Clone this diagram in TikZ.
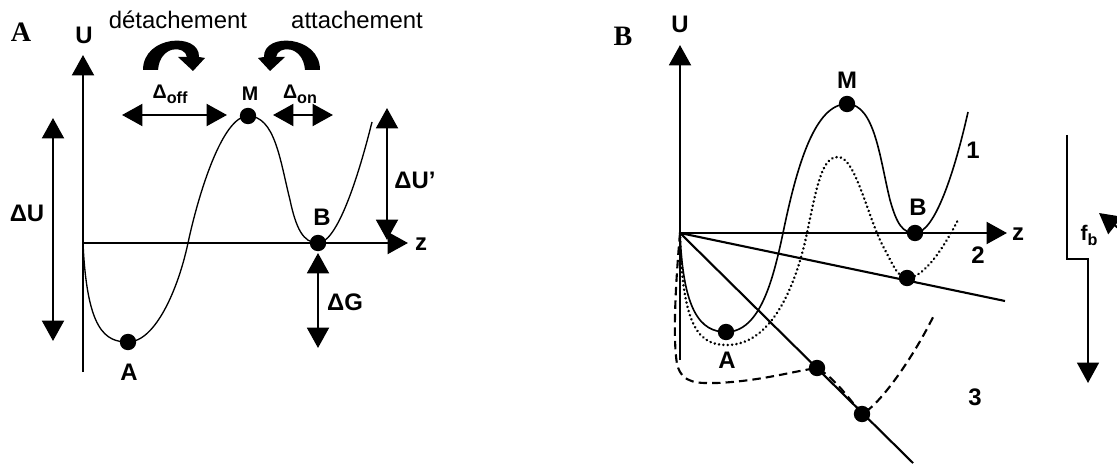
\documentclass[tikz,border=0pt]{standalone}
\usepackage{fontspec}
\setmainfont{Liberation Sans}
\newfontfamily\panelfont{Liberation Serif}
\usetikzlibrary{arrows.meta}
\newcommand\lowsub[1]{\raisebox{-0.45ex}{\fontsize{11.5}{12}\selectfont #1}}
\tikzset{
  axis/.style={line width=1.9pt},
  thinline/.style={line width=1.5pt},
  big/.style={-{Triangle[length=14.5pt,width=15.5pt]}},
  bigboth/.style={{Triangle[length=14.5pt,width=15.5pt]}-{Triangle[length=14.5pt,width=15.5pt]}},
  curveA/.style={line width=0.95pt},
  curveB/.style={line width=1.15pt},
  dotted curve/.style={line width=2pt, line cap=round, dash pattern=on 0.01pt off 3.1pt},
  dashed curve/.style={line width=1.5pt, dash pattern=on 6pt off 3.6pt},
  dot/.style={circle,fill=black,inner sep=0pt,minimum size=0.41cm},
  lab/.style={font=\fontsize{17}{20}\selectfont\bfseries, inner sep=0pt},
  small/.style={font=\fontsize{14}{16}\selectfont\bfseries, inner sep=0pt},
  txt/.style={font=\fontsize{17}{20}\selectfont, inner sep=0pt},
  panel/.style={font=\fontsize{20}{22}\selectfont\panelfont\bfseries, inner sep=0pt},
}
\begin{document}
\begin{tikzpicture}[x=0.025cm, y=-0.025cm]
\useasboundingbox (0,0) rectangle (1117,465);
\clip (0,0) rectangle (1117,465);

% ================= Panel A =================
\coordinate (OA) at (83,243);
\coordinate (UAbot) at (83,372);
\coordinate (UAtop) at (83,55);
\coordinate (zAend) at (408,243);
\coordinate (pA) at (128,342);
\coordinate (pM) at (248,116);
\coordinate (pB) at (318,243);
\coordinate (cAz) at (188,243);
\coordinate (cAend) at (372,122);

\draw[axis,big] (UAbot) -- (UAtop);
\draw[axis,big] (OA) -- (zAend);

\draw[curveA] (OA) .. controls (87,330) and (105,342) .. (pA)
  .. controls (155,342) and (178,290) .. (cAz)
  .. controls (198,196) and (222,116) .. (pM)
  .. controls (275,116) and (280,160) .. (290,200)
  .. controls (296,228) and (303,243) .. (pB)
  .. controls (335,243) and (355,190) .. (cAend);

\node[dot] (dA) at (pA) {};
\node[dot] (dM) at (pM) {};
\node[dot] (dB) at (pB) {};

% measurement arrows
\coordinate (dUt) at (53,118);
\coordinate (dUb) at (53,341);
\draw[axis,bigboth] (dUt) -- (dUb);
\coordinate (dUpt) at (387,108);
\coordinate (dUpb) at (387,240);
\draw[axis,bigboth] (dUpt) -- (dUpb);
\coordinate (dGt) at (318,253);
\coordinate (dGb) at (318,348);
\draw[axis,bigboth] (dGt) -- (dGb);
\coordinate (offL) at (122,115);
\coordinate (offR) at (227,115);
\draw[axis,bigboth] (offL) -- (offR);
\coordinate (onL) at (273,115);
\coordinate (onR) at (333,115);
\draw[axis,bigboth] (onL) -- (onR);

% curved block arrows
\fill (143,70) .. controls (143,35) and (200,32) .. (199,57) -- (205,58) -- (193,71) -- (178,57) -- (187,57)
  .. controls (185,45) and (160,45) .. (158,70) -- cycle;
\begin{scope}[shift={(463,0)}, xscale=-1]
\fill (143,70) .. controls (143,35) and (200,32) .. (199,57) -- (205,58) -- (193,71) -- (178,57) -- (187,57)
  .. controls (185,45) and (160,45) .. (158,70) -- cycle;
\end{scope}

% labels panel A
\node[panel] (panA) at (21,32) {A};
\node[lab] (lUA) at (84,35) {U};
\node[txt] (ldet) at (178,20) {détachement};
\node[txt] (latt) at (357,20) {attachement};
\node[small] (loff) at (170,94) {Δ\lowsub{off}};
\node[small] (lMA) at (250,94) {M};
\node[small] (lon) at (300,94) {Δ\lowsub{on}};
\node[lab] (ldU) at (27,213) {ΔU};
\node[lab] (ldUp) at (415,180) {ΔU’};
\node[lab] (lBA) at (322,217) {B};
\node[lab] (lzA) at (421,244) {z};
\node[lab] (ldG) at (345,302) {ΔG};
\node[lab] (lAA) at (129,372) {A};

% ================= Panel B =================
\coordinate (OB) at (680,233);
\coordinate (UBbot) at (680,360);
\coordinate (UBtop) at (680,45);
\coordinate (zBend) at (1007,233);
\coordinate (l2end) at (1005,301);
\coordinate (l3end) at (913,463);

\draw[axis,big] (UBbot) -- (UBtop);
\draw[axis,big] (OB) -- (zBend);
\draw[thinline] (OB) -- (l2end);
\draw[thinline] (OB) -- (l3end);

\coordinate (q1A) at (726,332);
\coordinate (q1M) at (847,104);
\coordinate (q1B) at (915,233);
\coordinate (q1z) at (783,233);
\coordinate (q1end) at (968,112);
\coordinate (q2A) at (727,345);
\coordinate (q2P) at (838,157);
\coordinate (q2z) at (807,233);
\coordinate (q2D) at (907,278);
\coordinate (q2end) at (958,220);
\coordinate (q3a) at (817,368);
\coordinate (q3b) at (862,414);
\coordinate (q3end) at (935,313);

% curve 1
\draw[curveB] (OB) .. controls (683,310) and (700,332) .. (q1A)
  .. controls (760,332) and (773,280) .. (q1z)
  .. controls (797,165) and (815,104) .. (q1M)
  .. controls (875,104) and (880,160) .. (890,200)
  .. controls (897,225) and (903,233) .. (q1B)
  .. controls (935,233) and (955,170) .. (q1end);
% curve 2
\draw[dotted curve] (OB) .. controls (682,330) and (700,345) .. (q2A)
  .. controls (770,345) and (795,290) .. (q2z)
  .. controls (817,185) and (822,157) .. (q2P)
  .. controls (856,157) and (868,220) .. (885,250)
  .. controls (893,265) and (898,278) .. (q2D)
  .. controls (925,278) and (945,245) .. (q2end);
% curve 3
\draw[dashed curve] (OB) .. controls (675,290) and (673,340) .. (677,364)
  .. controls (682,385) and (700,383) .. (717,383)
  .. controls (760,381) and (790,372) .. (q3a)
  .. controls (835,378) and (850,400) .. (q3b)
  .. controls (880,405) and (915,355) .. (q3end);

\node[dot] (dB1A) at (q1A) {};
\node[dot] (dB1M) at (q1M) {};
\node[dot] (dB1B) at (q1B) {};
\node[dot] (dB2) at (q2D) {};
\node[dot] (dB3a) at (q3a) {};
\node[dot] (dB3b) at (q3b) {};

% force step arrow
\coordinate (s1) at (1067,135);
\coordinate (s2) at (1067,259);
\coordinate (s3) at (1088,259);
\coordinate (s4) at (1088,383);
\draw[thinline,big] (s1) -- (s2) -- (s3) -- (s4);
\coordinate (fbfrom) at (1140,245);
\coordinate (fbtip) at (1099,213);
\draw[thinline,big] (fbfrom) -- (fbtip);

% labels panel B
\node[panel] (panB) at (623,36) {B};
\node[lab] (lUB) at (680,24) {U};
\node[lab] (lMB) at (847,80) {M};
\node[lab] (l1) at (973,150) {1};
\node[lab] (lBB) at (918,207) {B};
\node[lab] (lzB) at (1018,234) {z};
\node[lab] (l2) at (978,255) {2};
\node[lab] (lAB) at (727,360) {A};
\node[lab] (l3) at (975,397) {3};
\node[font=\fontsize{15}{17}\selectfont\bfseries, inner sep=0pt] (lfb) at (1089,235) {f\lowsub{b}};
\end{tikzpicture}
\end{document}
